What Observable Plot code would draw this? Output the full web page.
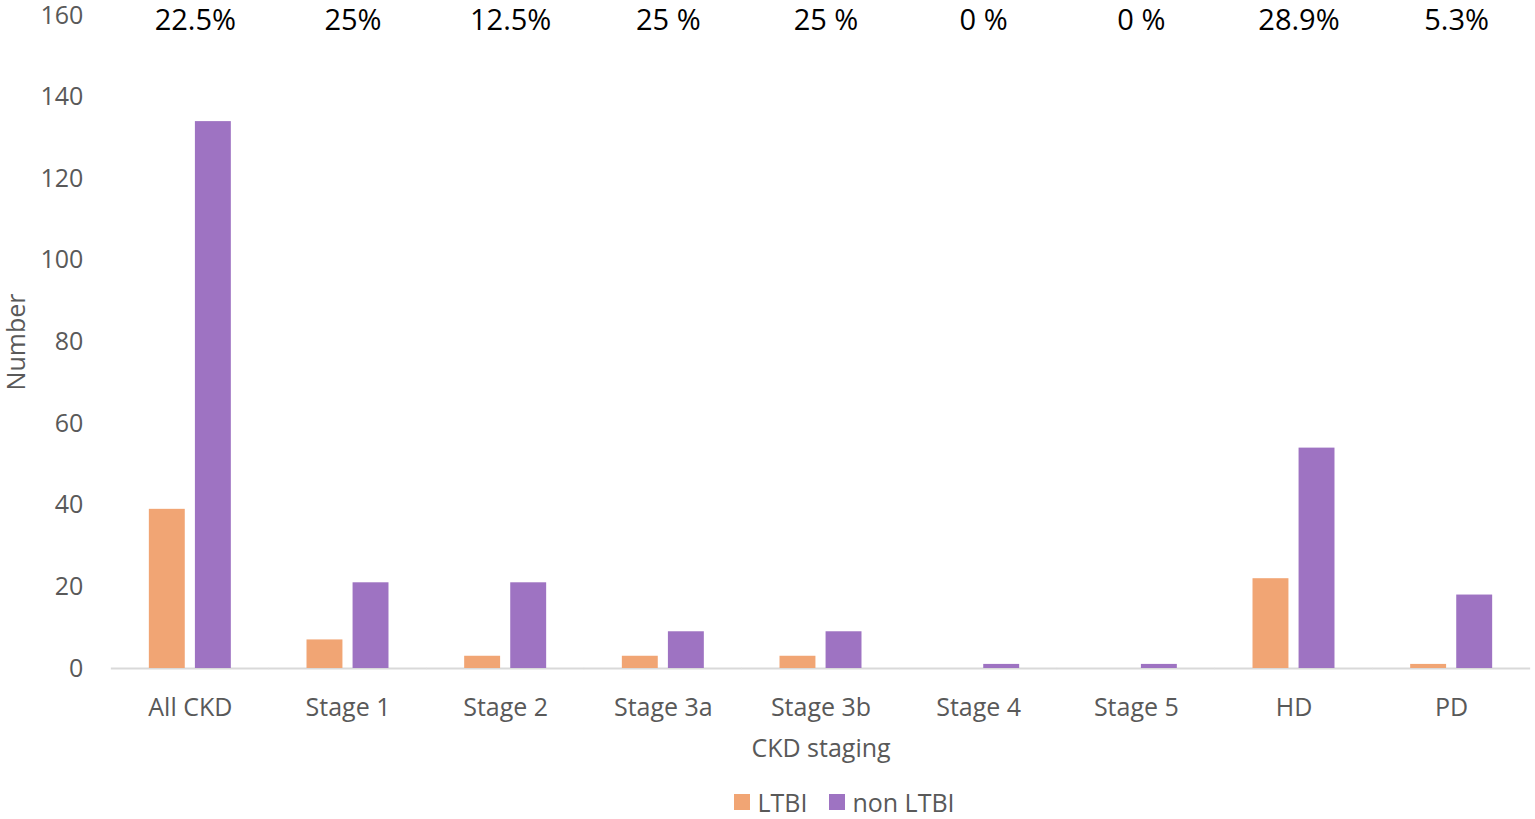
<!DOCTYPE html>
<html>
<head>
<meta charset="utf-8">
<script src="https://cdn.jsdelivr.net/npm/d3@7"></script>
<script src="https://cdn.jsdelivr.net/npm/@observablehq/plot@0.6"></script>
<style>
  body { margin: 0; background: #fff; font-family: "Open Sans", sans-serif; }
  #legend { display: flex; justify-content: center; gap: 22px; font-size: 25px; color: #595959; margin-left: 154px; margin-top: 10px; }
  #legend span.item { display: flex; align-items: center; gap: 7px; }
  #legend span.sw { width: 16px; height: 16px; display: inline-block; }
</style>
</head>
<body>
<div id="chart"></div>
<div id="legend"></div>
<script>
const categories = ["All CKD", "Stage 1", "Stage 2", "Stage 3a", "Stage 3b", "Stage 4", "Stage 5", "HD", "PD"];
const series = ["LTBI", "non LTBI"];
const ltbi = [39, 7, 3, 3, 3, 0, 0, 22, 1];
const nonLtbi = [134, 21, 21, 9, 9, 1, 1, 54, 18];
const pctLabels = ["22.5%", "25%", "12.5%", "25 %", "25 %", "0 %", "0 %", "28.9%", "5.3%"];
const yTicks = [0, 20, 40, 60, 80, 100, 120, 140, 160];
const colors = ["#F1A574", "#9E73C2"];

const data = [];
categories.forEach((c, i) => {
  data.push({cat: c, series: series[0], value: ltbi[i]});
  data.push({cat: c, series: series[1], value: nonLtbi[i]});
});
const labels = categories.map((c, i) => ({cat: c, text: pctLabels[i]}));

const chart = Plot.plot({
  width: 1535,
  height: 775,
  marginTop: 15,
  marginBottom: 107,
  marginLeft: 111,
  marginRight: 5,
  style: {fontFamily: "Open Sans", fontSize: "25px", color: "#595959", background: "#fff", overflow: "visible"},
  fx: {domain: categories, paddingInner: 0.48, paddingOuter: 0.24, round: false, label: "CKD staging", labelAnchor: "center", labelOffset: 88, tickSize: 0, tickPadding: 30, axis: "bottom"},
  x: {domain: series, paddingInner: 0.22, paddingOuter: 0, round: false, axis: null},
  y: {domain: [0, 160], ticks: yTicks, tickSize: 0, tickPadding: 66, label: "Number", labelAnchor: "center", labelOffset: 142, labelArrow: "none"},
  color: {domain: series, range: colors},
  marks: [
    Plot.ruleY([0], {stroke: "#d9d9d9", strokeWidth: 2, insetLeft: -38, insetRight: -38}),
    Plot.barY(data, {fx: "cat", x: "series", y: "value", fill: "series"}),
    Plot.text(labels, {fx: "cat", text: "text", frameAnchor: "top", lineAnchor: "middle", dy: 5, dx: 5, fill: "#000", fontSize: 29})
  ]
});
document.getElementById("chart").appendChild(chart);

const legend = document.getElementById("legend");
series.forEach((s, i) => {
  const item = document.createElement("span");
  item.className = "item";
  const sw = document.createElement("span");
  sw.className = "sw";
  sw.style.background = colors[i];
  item.appendChild(sw);
  item.appendChild(document.createTextNode(s));
  legend.appendChild(item);
});
</script>
</body>
</html>
